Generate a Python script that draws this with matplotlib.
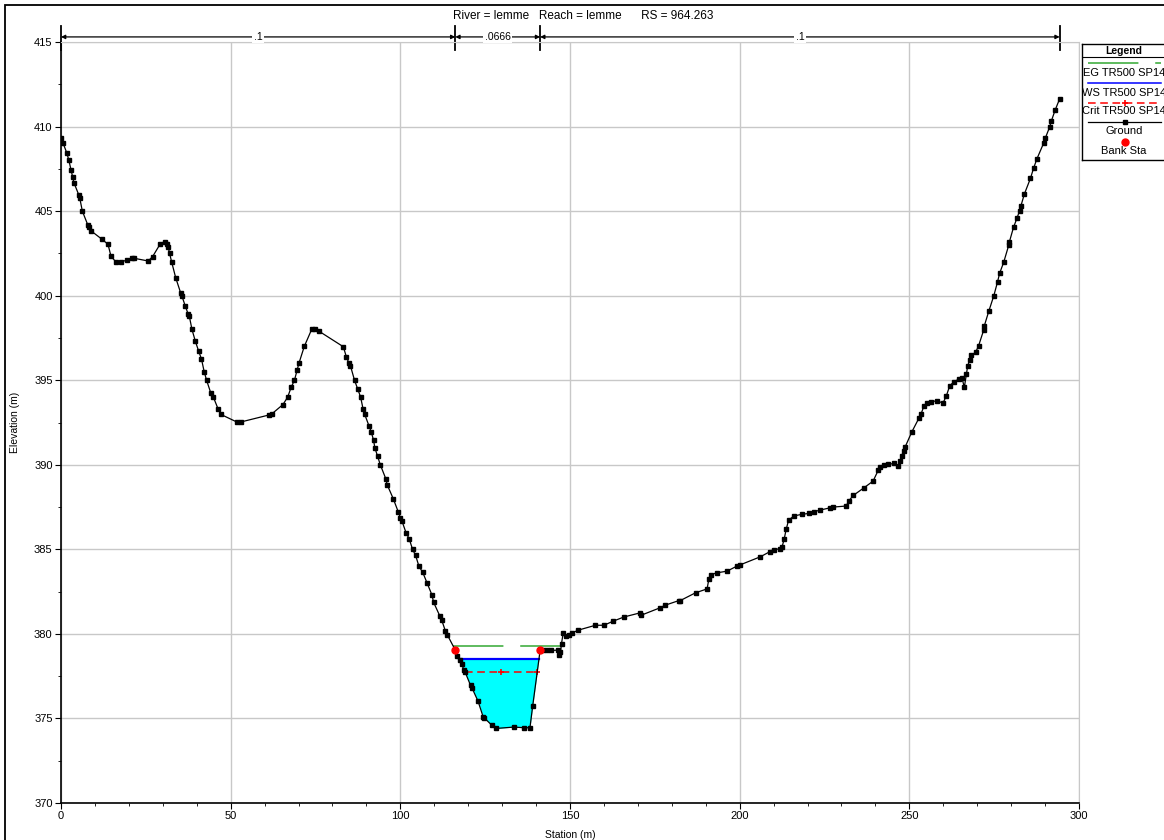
import numpy as np
import matplotlib
matplotlib.use('agg')
import matplotlib.pyplot as plt
from matplotlib.lines import Line2D
from matplotlib.patches import Rectangle

plt.rcParams['font.family'] = ['Liberation Sans', 'DejaVu Sans']

# ground profile: station (m), elevation (m)
station = [
    0, 0.59, 1.67, 2.26, 2.95, 3.44, 3.83, 5.2, 5.5, 6.29, 7.86, 8.25, 8.74,
    11.98, 13.85, 14.73, 16.2, 17.7, 19.4, 20.9, 21.6, 25.7, 27.0, 29.3, 30.6,
    31.3, 31.6, 32.0, 32.6, 33.8, 35.3, 35.6, 36.6, 37.5, 37.8, 38.6, 39.6,
    40.6, 41.4, 42.2, 42.9, 44.1, 44.9, 46.3, 47.1, 51.8, 53.0, 61.2, 62.2,
    65.4, 66.8, 67.8, 68.8, 69.6, 70.1, 71.7, 73.9, 74.8, 76.1, 83.2, 84.1,
    84.9, 85.3, 86.5, 87.4, 88.3, 89.0, 89.5, 90.8, 91.4, 92.1, 92.5, 93.3,
    94.1, 95.8, 96.1, 97.9, 99.4, 100.0, 100.5, 101.7, 102.6, 103.6, 104.5,
    105.5, 106.6, 107.9, 109.3, 109.8, 111.7, 112.2, 113.3, 113.8, 116.2,
    116.6, 117.5, 118.1, 118.7, 119.1, 120.7, 121.1, 122.9, 124.4, 124.7,
    127.0, 128.3, 133.5, 136.5, 138.2, 139.0, 141.2, 142.1, 143.3, 144.5,
    146.5, 146.9, 147.2, 147.5, 148.0, 148.7, 149.7, 150.7, 152.4, 157.5,
    160.0, 162.7, 165.9, 170.6, 170.8, 176.5, 178.1, 182.1, 182.5, 187.0,
    190.4, 190.9, 191.6, 193.3, 196.3, 199.2, 200.0, 206.1, 208.8, 210.0,
    212.0, 212.5, 213.1, 213.7, 214.4, 215.9, 218.3, 220.3, 221.8, 223.7,
    226.7, 227.6, 231.4, 232.1, 233.5, 236.5, 239.3, 240.9, 241.5, 242.4,
    243.8, 245.4, 246.8, 247.3, 247.7, 248.3, 248.8, 250.7, 252.9, 253.4,
    254.3, 255.2, 256.5, 258.3, 259.9, 260.9, 261.9, 263.1, 264.5, 265.5,
    266.2, 266.8, 267.2, 267.8, 268.3, 269.5, 270.4, 271.9, 272.1, 273.4,
    274.9, 276.0, 276.6, 277.8, 279.3, 279.5, 280.7, 281.7, 282.5, 282.9,
    283.9, 285.7, 286.6, 287.6, 289.6, 290.1, 291.4, 291.8, 293.0, 294.3,
]
elevation = [
    409.31, 409.03, 408.46, 408.05, 407.44, 407.0, 406.67, 405.98, 405.8,
    405.0, 404.2, 404.04, 403.85, 403.35, 403.04, 402.33, 401.99, 401.99,
    402.11, 402.21, 402.21, 402.05, 402.31, 403.08, 403.2, 403.06, 402.86,
    402.5, 402.0, 401.06, 400.14, 400.0, 399.4, 398.9, 398.8, 398.0, 397.3,
    396.7, 396.25, 395.5, 395.0, 394.27, 394.0, 393.3, 392.98, 392.53,
    392.53, 392.94, 393.02, 393.56, 394.0, 394.57, 395.0, 395.6, 395.99,
    397.0, 398.02, 398.02, 397.89, 396.98, 396.38, 395.99, 395.85, 395.0,
    394.5, 394.0, 393.32, 392.98, 392.29, 391.96, 391.46, 391.0, 390.51,
    390.0, 389.13, 388.83, 388.0, 387.21, 386.86, 386.66, 385.97, 385.63,
    385.0, 384.64, 383.99, 383.64, 383.0, 382.31, 381.87, 381.03, 380.81,
    380.16, 379.96, 379.04, 378.72, 378.48, 378.19, 377.89, 377.74, 376.95,
    376.81, 376.02, 375.10, 375.04, 374.59, 374.41, 374.49, 374.45, 374.45,
    375.73, 379.04, 379.04, 379.02, 379.02, 379.04, 378.75, 378.91, 379.43,
    380.06, 379.9, 379.96, 380.06, 380.22, 380.51, 380.51, 380.75, 381.0,
    381.24, 381.09, 381.54, 381.70, 381.97, 381.97, 382.43, 382.66, 383.22,
    383.51, 383.61, 383.71, 384.01, 384.07, 384.56, 384.85, 384.99, 385.03,
    385.15, 385.59, 386.18, 386.71, 386.97, 387.07, 387.12, 387.22, 387.32,
    387.46, 387.5, 387.56, 387.85, 388.19, 388.62, 389.03, 389.7, 389.88,
    389.96, 390.02, 390.08, 389.92, 390.22, 390.51, 390.81, 391.07, 391.93,
    392.78, 392.98, 393.47, 393.65, 393.74, 393.78, 393.64, 394.07, 394.67,
    394.9, 395.06, 395.16, 394.57, 395.36, 395.85, 396.2, 396.5, 396.64,
    397.03, 397.96, 398.22, 399.07, 400.0, 400.82, 401.32, 401.97, 402.99,
    403.19, 404.04, 404.57, 405.03, 405.32, 406.01, 406.94, 407.53, 408.09,
    409.03, 409.33, 410.0, 410.3, 410.99, 411.64,
]

bank_sta = [116.2, 141.2]
bank_elev = [379.04, 379.04]

eg_elev = 379.26
ws_elev = 378.52
crit_elev = 377.75

reach_bounds = [0, 116.2, 141.2, 294.3]
reach_n = ['.1', '.0666', '.1']

title = 'River = lemme   Reach = lemme      RS = 964.263'
legend_labels = ['EG TR500 SP14', 'WS TR500 SP14', 'Crit TR500 SP14', 'Ground', 'Bank Sta']


def crossings(x, y, level):
    # first and last place where the ground crosses a level
    x = np.asarray(x)
    d = np.asarray(y) - level
    out = []
    for i in range(len(d) - 1):
        if d[i] * d[i + 1] < 0:
            out.append(x[i] + (x[i + 1] - x[i]) * d[i] / (d[i] - d[i + 1]))
    return out[0], out[-1]


gx = np.array(station)
gy = np.array(elevation)

fig = plt.figure(figsize=(11.64, 8.40), dpi=100)
ax = fig.add_axes([61 / 1164, 1 - 803 / 840, 1018 / 1164, 761 / 840])

ax.fill_between(gx, gy, ws_elev, where=gy < ws_elev, interpolate=True,
                color='#00ffff', linewidth=0, zorder=2)

x0, x1 = crossings(gx, gy, eg_elev)
ax.plot([x0, x1], [eg_elev, eg_elev], color='#33a833', lw=1.1,
        dashes=(33, 11), zorder=3)

x0, x1 = crossings(gx, gy, ws_elev)
ax.plot([x0, x1], [ws_elev, ws_elev], color='#0000ff', lw=1.6, zorder=3)

x0, x1 = crossings(gx, gy, crit_elev)
ax.plot([x0, (x0 + x1) / 2, x1], [crit_elev] * 3, color='#ff0000', lw=1.1,
        dashes=(5, 3), marker='+', ms=5, mew=1.2, zorder=3)

ax.plot(gx, gy, color='black', lw=0.9, marker='s', ms=3.3, zorder=4)
ax.plot(bank_sta, bank_elev, linestyle='None', marker='o', color='#ff0000',
        ms=5, zorder=5)

ax.set_xlim(0, 300)
ax.set_ylim(370, 415)
ax.set_xticks(np.arange(0, 301, 50))
ax.set_xticks(np.arange(0, 301, 10), minor=True)
ax.set_yticks(np.arange(370, 416, 5))
ax.set_yticks(np.arange(370, 416, 2.5), minor=True)
ax.grid(True, which='major', color='#c8c8c8', lw=1, zorder=0)
ax.set_axisbelow(True)
ax.tick_params(which='major', direction='out', length=4, labelsize=8, pad=2)
ax.tick_params(which='minor', direction='out', length=2.5)
for s in ['top', 'right']:
    ax.spines[s].set_color('#c8c8c8')
ax.spines['left'].set_linewidth(1.2)
ax.spines['bottom'].set_linewidth(1.2)
ax.set_xlabel('Station (m)', fontsize=7.5, labelpad=6)
ax.set_ylabel('Elevation (m)', fontsize=7.5, labelpad=10)

# reach lengths / Manning's n bars above the plot
arrow_y = 415.3
for xb in reach_bounds:
    ax.plot([xb, xb], [414.5, 415.95], color='black', lw=1.3, clip_on=False)
for i, n in enumerate(reach_n):
    a, b = reach_bounds[i], reach_bounds[i + 1]
    ax.annotate('', xy=(a, arrow_y), xytext=(b, arrow_y), annotation_clip=False,
                arrowprops=dict(arrowstyle='<|-|>', color='black', lw=0.9,
                                mutation_scale=6, shrinkA=0, shrinkB=0))
    ax.text((a + b) / 2, arrow_y, n, ha='center', va='center', fontsize=7.5,
            bbox=dict(facecolor='white', edgecolor='none', pad=1))
ax.text(153.8, 416.55, title, ha='center', va='center', fontsize=8.5)

# legend box
lg = fig.add_axes([1082 / 1164, 1 - 160 / 840, 92 / 1164, 116 / 840])
lg.set_xlim(1082, 1174)
lg.set_ylim(160, 44)
lg.set_xticks([])
lg.set_yticks([])
for s in lg.spines.values():
    s.set_linewidth(1)
lg.plot([1082, 1174], [57, 57], color='black', lw=0.8)
lg.text(1124, 50.5, 'Legend', ha='center', va='center', fontsize=7.5,
        fontweight='bold')
lg.add_line(Line2D([1088, 1161], [62.5, 62.5], color='#33a833', lw=1.1,
                   dashes=(33, 11)))
lg.add_line(Line2D([1088, 1161], [82.5, 82.5], color='#0000ff', lw=1.1))
lg.add_line(Line2D([1088, 1161], [102.5, 102.5], color='#ff0000', lw=1.1,
                   dashes=(5, 3)))
lg.plot([1124.5], [102.5], marker='+', color='#ff0000', ms=5, mew=1.2)
lg.add_line(Line2D([1088, 1161], [122, 122], color='black', lw=0.9))
lg.plot([1124.5], [122], marker='s', color='black', ms=3.3)
lg.plot([1124.5], [142], marker='o', color='#ff0000', ms=5)
for yy, lab in zip([72.5, 92.5, 111.5, 131.5, 151], legend_labels):
    lg.text(1124, yy, lab, ha='center', va='center', fontsize=8)

# outer frame
fig.patches.append(Rectangle((5 / 1164, -0.1), 1.2, 1.1 - 5 / 840,
                             transform=fig.transFigure, fill=False,
                             edgecolor='black', lw=1.3))

fig.savefig('out.png', dpi=100)
